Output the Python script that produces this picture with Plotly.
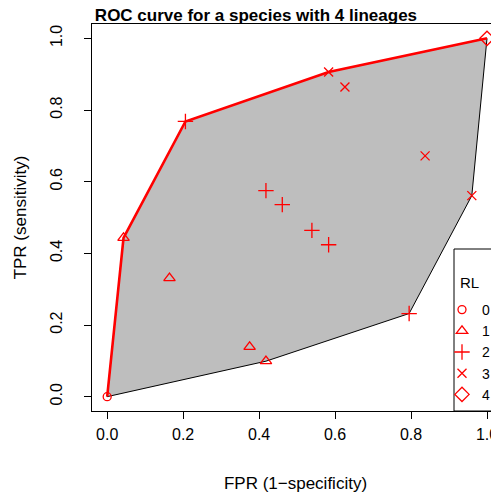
import plotly.graph_objects as go

# FPR / TPR per RL class
fpr_rl0 = [0.0]
tpr_rl0 = [0.0]
fpr_rl1 = [0.043, 0.164, 0.375, 0.418]
tpr_rl1 = [0.443, 0.331, 0.139, 0.099]
fpr_rl2 = [0.206, 0.418, 0.461, 0.539, 0.583, 0.795]
tpr_rl2 = [0.768, 0.575, 0.536, 0.464, 0.424, 0.232]
fpr_rl3 = [0.583, 0.626, 0.837, 0.960]
tpr_rl3 = [0.906, 0.864, 0.672, 0.561]
fpr_rl4 = [1.0]
tpr_rl4 = [1.0]

rl_labels = ["0", "1", "2", "3", "4"]
rl_symbols = ["circle-open", "triangle-up-open", "cross-thin-open", "x-thin-open", "diamond-open"]
rl_sizes = [8, 10, 11, 9, 11]
tick_vals = [0.0, 0.2, 0.4, 0.6, 0.8, 1.0]

FONT = "Liberation Sans, Arial, sans-serif"
RED = "#FF0000"

# plot area in page pixels (page body adds an 8px offset)
PLOT_LEFT, PLOT_W = 92, 407
PLOT_TOP, PLOT_H = 24, 387
PLOT_BOTTOM = PLOT_TOP + PLOT_H


def hull_chain(pts):
    # monotone chain, returns lower and upper hulls from left to right
    pts = sorted(set(pts))

    def cross(o, a, b):
        return (a[0] - o[0]) * (b[1] - o[1]) - (a[1] - o[1]) * (b[0] - o[0])

    lower, upper = [], []
    for p in pts:
        while len(lower) >= 2 and cross(lower[-2], lower[-1], p) <= 0:
            lower.pop()
        lower.append(p)
    for p in reversed(pts):
        while len(upper) >= 2 and cross(upper[-2], upper[-1], p) <= 0:
            upper.pop()
        upper.append(p)
    return lower, upper[::-1]


def px_x(px):
    return (px - PLOT_LEFT) / PLOT_W


def px_y(py):
    return (PLOT_BOTTOM - py) / PLOT_H


all_fpr = fpr_rl0 + fpr_rl1 + fpr_rl2 + fpr_rl3 + fpr_rl4
all_tpr = tpr_rl0 + tpr_rl1 + tpr_rl2 + tpr_rl3 + tpr_rl4
lower, upper = hull_chain(list(zip(all_fpr, all_tpr)))
poly = lower + upper[::-1][1:]

fig = go.Figure()

# grey hull with black outline
fig.add_trace(go.Scatter(
    x=[p[0] for p in poly], y=[p[1] for p in poly],
    mode="lines", fill="toself", fillcolor="#BEBEBE",
    line=dict(color="black", width=1), showlegend=False, hoverinfo="skip"
))

# ROC curve = upper hull in red
fig.add_trace(go.Scatter(
    x=[p[0] for p in upper], y=[p[1] for p in upper],
    mode="lines", line=dict(color=RED, width=2.6), showlegend=False
))

groups = [(fpr_rl0, tpr_rl0), (fpr_rl1, tpr_rl1), (fpr_rl2, tpr_rl2),
          (fpr_rl3, tpr_rl3), (fpr_rl4, tpr_rl4)]
for (xs, ys), lab, sym, sz in zip(groups, rl_labels, rl_symbols, rl_sizes):
    fig.add_trace(go.Scatter(
        x=xs, y=ys, mode="markers", name=lab,
        marker=dict(symbol=sym, size=sz, color=RED, line=dict(color=RED, width=1.3))
    ))

axis_common = dict(
    tickvals=tick_vals, tickformat=".1f", ticks="outside", ticklen=7,
    tickcolor="black", tickwidth=1, showline=True, linecolor="black", linewidth=1,
    showgrid=False, zeroline=False, tickfont=dict(family=FONT, size=16, color="black"),
)

fig.update_xaxes(
    range=[-0.04, 1.0316], mirror=True, ticklabelstandoff=2,
    title=dict(text="FPR (1\u2212specificity)", font=dict(family=FONT, size=17, color="black"), standoff=36),
    **axis_common
)
fig.update_yaxes(
    range=[-0.04, 1.04], tickangle=-90, ticklabelstandoff=16,
    title=dict(text="TPR (sensitivity)", font=dict(family=FONT, size=17, color="black"), standoff=16),
    **axis_common
)

# legend box (its right side runs off the figure, as in the reference)
fig.add_shape(type="rect", xref="paper", yref="paper", x0=px_x(454), x1=1.05, y0=0, y1=px_y(249),
              line=dict(color="black", width=1), fillcolor="white", layer="above")
fig.add_annotation(text="RL", xref="paper", yref="paper", x=px_x(469), y=px_y(282),
                   showarrow=False, xanchor="center", yanchor="middle",
                   font=dict(family=FONT, size=15, color="black"))

fig.update_layout(
    width=491, height=485,
    margin=dict(l=84, r=0, t=16, b=82, autoexpand=False),
    plot_bgcolor="white", paper_bgcolor="white",
    font=dict(family=FONT, color="black"),
    title=dict(text="<b>ROC curve for a species with 4 lineages</b>",
               font=dict(family=FONT, size=17, color="black"),
               x=0.505, xanchor="center", y=1 - 7.5 / 485, yanchor="middle"),
    legend=dict(font=dict(family=FONT, size=14, color="black"),
                x=px_x(442), xanchor="left", y=px_y(294), yanchor="top",
                bgcolor="rgba(0,0,0,0)", borderwidth=0, itemwidth=30),
)

fig.write_html("out.html")
